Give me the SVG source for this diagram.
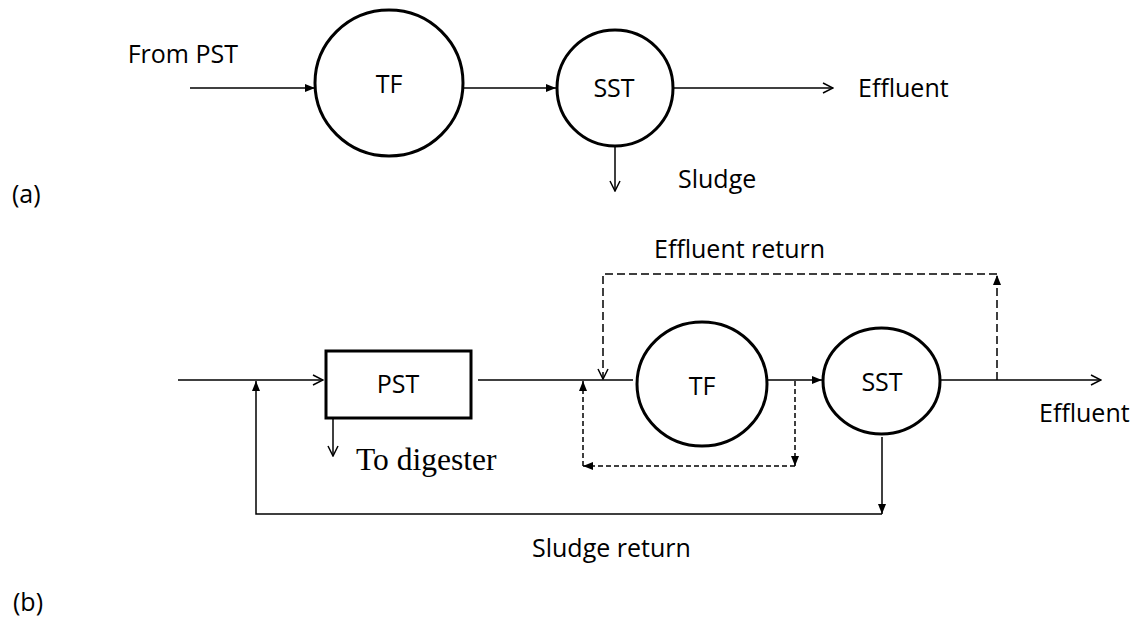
<svg xmlns="http://www.w3.org/2000/svg" width="1134" height="617" viewBox="0 0 1134 617">
  <defs>
    <marker id="fill" markerUnits="userSpaceOnUse" markerWidth="10" markerHeight="10" viewBox="0 0 10 10" refX="10" refY="5" orient="auto">
      <path d="M0,1 L10,5 L0,9 z" fill="#000"/>
    </marker>
    <marker id="open" markerUnits="userSpaceOnUse" markerWidth="12" markerHeight="12" viewBox="0 0 12 12" refX="11" refY="6" orient="auto">
      <path d="M1,1 L11,6 L1,11" fill="none" stroke="#000" stroke-width="1.5"/>
    </marker>
  </defs>
  <style>
    .lbl { font-family: "Open Sans", Lato, sans-serif; font-size: 25px; fill: #000; }
    .serif { font-family: "Liberation Serif", serif; font-size: 31.5px; fill: #000; }
    .node { fill: #fff; stroke: #000; stroke-width: 3; }
    .ln { fill: none; stroke: #000; stroke-width: 1.5; }
    .dash { fill: none; stroke: #000; stroke-width: 1.5; stroke-dasharray: 8 4; }
    .dash2 { fill: none; stroke: #000; stroke-width: 1.5; stroke-dasharray: 5 3; }
  </style>
  <rect width="1134" height="617" fill="#fff"/>

  <g id="connectors">
    <!-- (a) -->
    <path class="ln" d="M190,88 H315" marker-end="url(#fill)"/>
    <path class="ln" d="M463,88 H556" marker-end="url(#fill)"/>
    <path class="ln" d="M673,88 H833" marker-end="url(#open)"/>
    <path class="ln" d="M615,146 V191" marker-end="url(#open)"/>
    <!-- (b) -->
    <path class="ln" d="M178,380 H323" marker-end="url(#open)"/>
    <path class="ln" d="M478,380 H633" stroke="#444"/>
    <path class="ln" d="M333,418 V456" stroke-width="2" marker-end="url(#open)"/>
    <path class="ln" d="M767,380 H822" marker-end="url(#fill)"/>
    <path class="ln" d="M940,380 H1101" marker-end="url(#open)"/>
    <path class="ln" d="M882,437 V514" marker-end="url(#fill)"/>
    <path class="ln" d="M882,514 H256 V381" marker-end="url(#fill)"/>
    <path class="dash" d="M997,380 V275" marker-end="url(#fill)"/>
    <path class="dash" d="M997,274 H603 V379" marker-end="url(#open)"/>
    <path class="dash2" d="M795,381 V466" marker-end="url(#fill)"/>
    <path class="dash2" d="M795,466 H583" marker-end="url(#fill)"/>
    <path class="dash2" d="M583,466 V381" marker-end="url(#fill)"/>
  </g>

  <g id="tf-a">
    <ellipse class="node" cx="389" cy="83" rx="74" ry="73"/>
    <text class="lbl" x="389" y="93" text-anchor="middle">TF</text>
  </g>
  <g id="sst-a">
    <circle class="node" cx="615" cy="88" r="58"/>
    <text class="lbl" x="614" y="97" text-anchor="middle">SST</text>
  </g>
  <g id="labels-a">
    <text class="lbl" x="238" y="63" text-anchor="end">From PST</text>
    <text class="lbl" x="858" y="97">Effluent</text>
    <text class="lbl" x="678" y="188">Sludge</text>
    <text class="lbl" x="12" y="203">(a)</text>
  </g>

  <g id="pst-b">
    <rect class="node" x="326" y="351" width="145" height="67"/>
    <text class="lbl" x="398" y="393" text-anchor="middle">PST</text>
  </g>
  <g id="tf-b">
    <ellipse class="node" cx="702" cy="384" rx="65" ry="62"/>
    <text class="lbl" x="702" y="395" text-anchor="middle">TF</text>
  </g>
  <g id="sst-b">
    <ellipse class="node" cx="881.5" cy="381" rx="58.5" ry="53"/>
    <text class="lbl" x="882" y="391" text-anchor="middle">SST</text>
  </g>
  <g id="labels-b">
    <text class="lbl" x="654" y="258">Effluent return</text>
    <text class="lbl" x="1039" y="422">Effluent</text>
    <text class="serif" x="356" y="470">To digester</text>
    <text class="lbl" x="532" y="557">Sludge return</text>
    <text class="lbl" x="13" y="611">(b)</text>
  </g>
</svg>
